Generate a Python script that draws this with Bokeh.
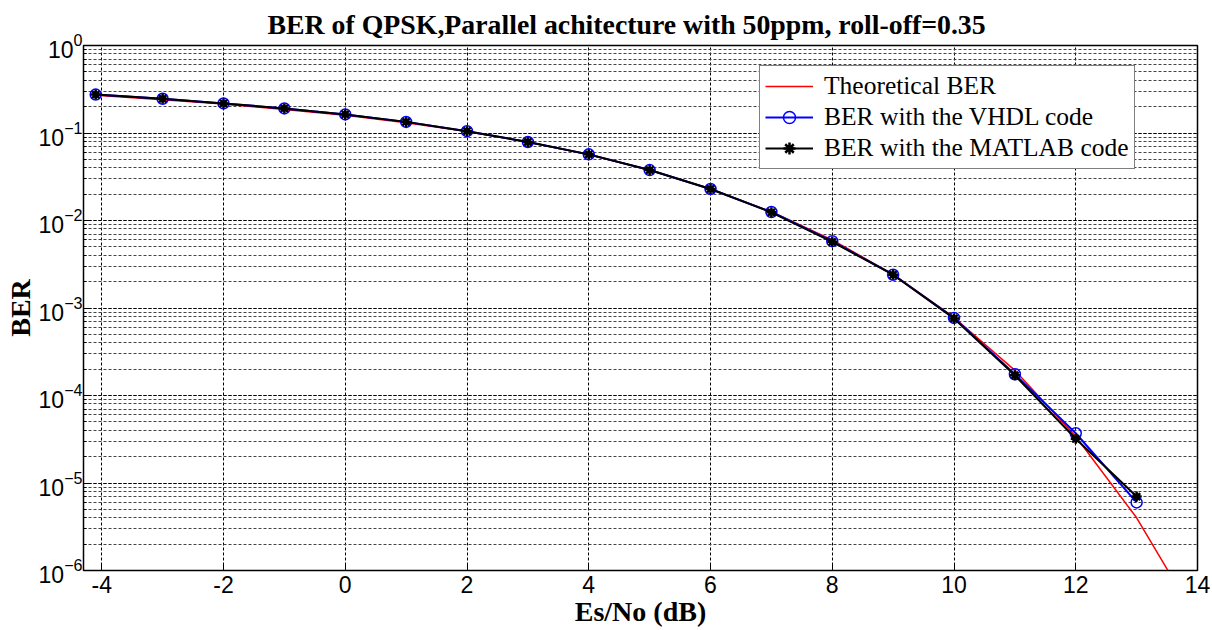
from bokeh.plotting import figure
from bokeh.models import Range1d, LogTicker, FixedTicker, Legend, LegendItem
from bokeh.embed import file_html
from bokeh.resources import INLINE

# Theoretical BER (sampled each dB, clipped at bottom)
theory_x = [-4.1, -3, -2, -1, 0, 1, 2, 3, 4, 5, 6, 7, 8, 9, 10, 11, 12, 13, 14]
theory_ber = [0.27, 0.24, 0.214, 0.186, 0.159, 0.131, 0.104, 0.0789, 0.0565, 0.0377,
              0.023, 0.0126, 0.0060, 0.00242, 7.8e-4, 1.94e-4, 3.4e-5, 4.0e-6, 2.7e-7]

meas_x = [-4.1, -3, -2, -1, 0, 1, 2, 3, 4, 5, 6, 7, 8, 9, 10, 11, 12, 13]
vhdl_ber = [0.275, 0.246, 0.218, 0.191, 0.163, 0.134, 0.105, 0.079, 0.057, 0.0377,
            0.0229, 0.0125, 0.0058, 0.0024, 7.7e-4, 1.75e-4, 3.7e-5, 6.0e-6]
matlab_ber = [0.275, 0.246, 0.218, 0.191, 0.163, 0.134, 0.105, 0.079, 0.057, 0.0377,
              0.0229, 0.0124, 0.0057, 0.0024, 7.6e-4, 1.7e-4, 3.2e-5, 7.0e-6]

x_ticks = [-4, -2, 0, 2, 4, 6, 8, 10, 12, 14]
x_tick_labels = {t: str(t) for t in x_ticks}
x_min, x_max = -4.3, 14
y_min, y_max = 1e-6, 1

p = figure(width=1212, height=630, y_axis_type="log",
           x_range=Range1d(x_min, x_max), y_range=Range1d(y_min, y_max),
           output_backend="svg", toolbar_location=None,
           min_border_left=83, min_border_right=15, min_border_top=44, min_border_bottom=60)

p.title.text = "BER of QPSK,Parallel achitecture with 50ppm, roll-off=0.35"
p.title.text_font = "Liberation Serif"
p.title.text_font_size = "27.8px"
p.title.text_font_style = "bold"
p.title.text_color = "black"
p.title.align = "left"
p.title.offset = 184
p.title.standoff = 12

p.outline_line_color = "black"
p.outline_line_width = 1.5

p.xaxis.ticker = FixedTicker(ticks=x_ticks)
p.xaxis.major_label_overrides = x_tick_labels
p.yaxis.ticker = LogTicker(num_minor_ticks=10)

for ax in (p.xaxis[0], p.yaxis[0]):
    ax.major_label_text_font = "Liberation Sans"
    ax.major_label_text_color = "black"
    ax.major_label_text_font_size = "23px"
    ax.axis_label_text_font = "Liberation Serif"
    ax.axis_label_text_font_size = "28px"
    ax.axis_label_text_font_style = "bold"
    ax.axis_label_text_color = "black"
    ax.major_tick_in = 6
    ax.major_tick_out = 0
    ax.minor_tick_in = 3
    ax.minor_tick_out = 0
    ax.axis_line_color = "black"
    ax.major_tick_line_color = "black"
    ax.minor_tick_line_color = "black"

p.xaxis.axis_label = "Es/No (dB)"
p.yaxis.axis_label = "BER"
p.xaxis.major_label_standoff = 5
p.xaxis.axis_label_standoff = 0
p.yaxis.major_label_standoff = 1
p.yaxis.axis_label_standoff = 0
p.xaxis.minor_tick_line_color = None

p.xgrid.grid_line_color = "black"
p.xgrid.grid_line_dash = "3 2"
p.xgrid.grid_line_width = 1
p.ygrid.grid_line_color = "black"
p.ygrid.grid_line_dash = "3 2"
p.ygrid.grid_line_width = 1
p.ygrid.minor_grid_line_color = "#444444"
p.ygrid.minor_grid_line_dash = "3 2"
p.ygrid.minor_grid_line_width = 1

r_theory = p.line(theory_x, theory_ber, line_color="red", line_width=1.5)
r_vhdl_l = p.line(meas_x, vhdl_ber, line_color="blue", line_width=2)
r_vhdl_m = p.scatter(meas_x, vhdl_ber, marker="circle", size=11, line_color="blue",
                     line_width=1.5, fill_color=None)
r_mat_l = p.line(meas_x, matlab_ber, line_color="black", line_width=2)
r_mat_m = p.scatter(meas_x, matlab_ber, marker="asterisk", size=10, line_color="black",
                    line_width=2.5)

legend = Legend(items=[
    LegendItem(label="Theoretical BER", renderers=[r_theory]),
    LegendItem(label="BER with the VHDL code", renderers=[r_vhdl_l, r_vhdl_m]),
    LegendItem(label="BER with the MATLAB code", renderers=[r_mat_l, r_mat_m]),
], location=(676, 401))
legend.label_text_font = "Liberation Serif"
legend.label_text_font_size = "25.5px"
legend.label_text_color = "black"
legend.label_height = 30
legend.glyph_height = 30
legend.glyph_width = 48
legend.label_standoff = 11
legend.spacing = 1
legend.padding = 5
legend.margin = 0
legend.border_line_color = "black"
legend.border_line_width = 1
legend.background_fill_alpha = 1
p.add_layout(legend)

open("out.html", "w").write(file_html(p, INLINE))
